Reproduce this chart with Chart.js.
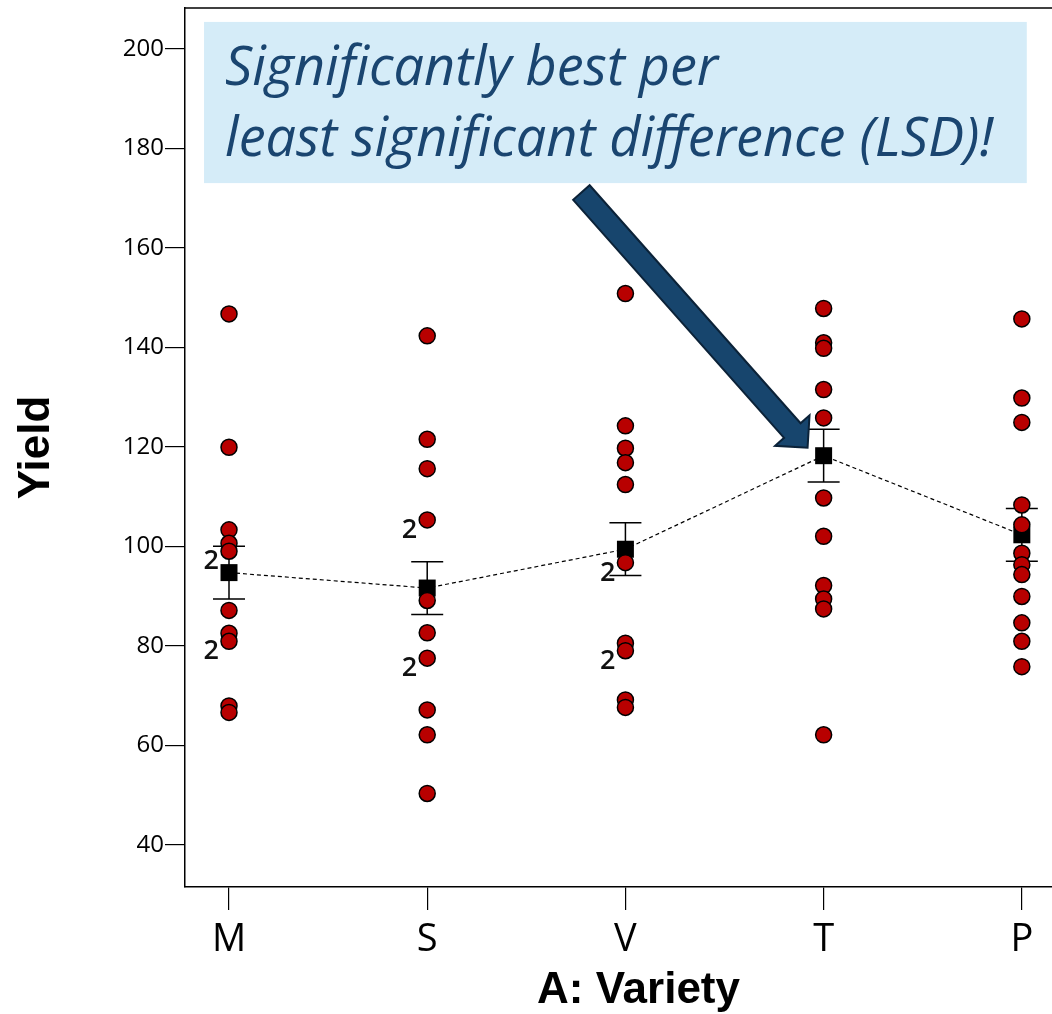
<!DOCTYPE html>
<html>
<head>
<meta charset="utf-8">
<script src="https://cdn.jsdelivr.net/npm/chart.js"></script>
<style>
  html, body { margin: 0; padding: 0; background: #fff; overflow: hidden; }
  #wrap { width: 1052px; height: 1014px; overflow: hidden; position: relative; }
  #wrap canvas { position: absolute; left: 0; top: 0; }
</style>
</head>
<body>
<div id="wrap"><canvas id="yieldChart" width="1092" height="1014"></canvas></div>
<script>
// varieties on the x axis
const varieties = ['M', 'S', 'V', 'T', 'P'];

// observed yields per variety (repeated values are drawn once and tagged with the count)
const yieldM = [146.7, 119.9, 103.3, 100.6, 99.0, 99.0, 87.1, 82.5, 80.9, 80.9, 67.9, 66.6];
const yieldS = [142.3, 121.5, 115.6, 105.3, 105.3, 89.1, 82.6, 77.5, 77.5, 67.1, 62.1, 50.3];
const yieldV = [150.8, 124.2, 119.7, 116.8, 112.4, 96.7, 96.7, 80.5, 79.0, 79.0, 69.1, 67.6];
const yieldT = [147.8, 140.9, 139.8, 131.5, 125.8, 109.7, 102.0, 92.1, 89.4, 87.4, 62.1];
const yieldP = [145.7, 129.8, 124.9, 108.3, 104.3, 98.6, 96.3, 94.3, 89.9, 84.6, 80.9, 75.8];

// predicted means and LSD half widths
const meanYield = [94.7, 91.6, 99.4, 118.2, 102.3];
const lsdHalf = [5.3, 5.3, 5.3, 5.3, 5.3];

const yTicks = [40, 60, 80, 100, 120, 140, 160, 180, 200];

const calloutLines = ['Significantly best per', 'least significant difference (LSD)!'];

// collapse repeats into one point with a count
const obsPoints = [];
[yieldM, yieldS, yieldV, yieldT, yieldP].forEach((vals, i) => {
  const counts = new Map();
  vals.forEach(v => counts.set(v, (counts.get(v) || 0) + 1));
  counts.forEach((n, v) => obsPoints.push({ x: i, y: v, n: n }));
});

const errorBars = {
  id: 'errorBars',
  beforeDatasetsDraw(chart) {
    const { ctx, scales: { x, y } } = chart;
    ctx.save();
    ctx.strokeStyle = '#000';
    ctx.lineWidth = 1.5;
    meanYield.forEach((m, i) => {
      const px = x.getPixelForValue(i);
      const top = y.getPixelForValue(m + lsdHalf[i]);
      const bot = y.getPixelForValue(m - lsdHalf[i]);
      ctx.beginPath();
      ctx.moveTo(px, top); ctx.lineTo(px, bot);
      ctx.moveTo(px - 16, top); ctx.lineTo(px + 16, top);
      ctx.moveTo(px - 16, bot); ctx.lineTo(px + 16, bot);
      ctx.stroke();
    });
    ctx.restore();
  }
};

const repeatTags = {
  id: 'repeatTags',
  afterDatasetsDraw(chart) {
    const { ctx } = chart;
    const meta = chart.getDatasetMeta(0);
    ctx.save();
    ctx.fillStyle = '#111';
    ctx.font = '600 27px "Open Sans", sans-serif';
    ctx.textAlign = 'right';
    ctx.textBaseline = 'alphabetic';
    meta.data.forEach((el, k) => {
      const p = obsPoints[k];
      if (p.n > 1) ctx.fillText(String(p.n), el.x - 10, el.y + 18);
    });
    ctx.restore();
  }
};

const callout = {
  id: 'callout',
  afterDraw(chart) {
    const { ctx, chartArea, scales: { x, y } } = chart;
    ctx.save();
    // top edge of the frame
    ctx.strokeStyle = '#000';
    ctx.lineWidth = 1.5;
    ctx.beginPath();
    ctx.moveTo(chartArea.left, chartArea.top);
    ctx.lineTo(chartArea.right, chartArea.top);
    ctx.stroke();

    // text box
    const bx0 = x.getPixelForValue(-0.126), bx1 = x.getPixelForValue(4.025);
    const by0 = y.getPixelForValue(205.4), by1 = y.getPixelForValue(173.0);
    ctx.fillStyle = '#D5ECF8';
    ctx.fillRect(bx0, by0, bx1 - bx0, by1 - by0);

    ctx.fillStyle = '#1A4570';
    ctx.textAlign = 'left';
    ctx.textBaseline = 'alphabetic';
    ctx.font = 'italic 100px "Open Sans", "Noto Sans", sans-serif';
    const w = ctx.measureText(calloutLines[1]).width;
    const size = Math.round(100 * 765 / w);
    ctx.font = 'italic ' + size + 'px "Open Sans", "Noto Sans", sans-serif';
    ctx.fillText(calloutLines[0], bx0 + 21, by0 + 63);
    ctx.fillText(calloutLines[1], bx0 + 21, by0 + 134);

    // arrow pointing at the best mean
    const tx = x.getPixelForValue(1.778), ty = y.getPixelForValue(171.1);
    const hx = x.getPixelForValue(2.919), hy = y.getPixelForValue(119.8);
    const len = Math.hypot(hx - tx, hy - ty);
    const dx = (hx - tx) / len, dy = (hy - ty) / len;
    const nx = -dy, ny = dx;
    const sw = 11, hw = 23, hl = 23;
    const bx = hx - dx * hl, byy = hy - dy * hl;
    ctx.beginPath();
    ctx.moveTo(tx + nx * sw, ty + ny * sw);
    ctx.lineTo(bx + nx * sw, byy + ny * sw);
    ctx.lineTo(bx + nx * hw, byy + ny * hw);
    ctx.lineTo(hx, hy);
    ctx.lineTo(bx - nx * hw, byy - ny * hw);
    ctx.lineTo(bx - nx * sw, byy - ny * sw);
    ctx.lineTo(tx - nx * sw, ty - ny * sw);
    ctx.closePath();
    ctx.fillStyle = '#17456D';
    ctx.fill();
    ctx.strokeStyle = '#0B2238';
    ctx.lineWidth = 2;
    ctx.lineJoin = 'miter';
    ctx.stroke();
    ctx.restore();
  }
};

new Chart(document.getElementById('yieldChart'), {
  type: 'scatter',
  data: {
    datasets: [
      {
        label: 'Yield',
        data: obsPoints,
        order: 0,
        pointRadius: 8,
        pointBackgroundColor: '#B80000',
        pointBorderColor: '#000',
        pointBorderWidth: 1.5
      },
      {
        type: 'line',
        label: 'Mean',
        data: meanYield.map((m, i) => ({ x: i, y: m })),
        order: 1,
        borderColor: '#000',
        borderWidth: 1.2,
        borderDash: [4, 3],
        pointStyle: 'rect',
        pointRadius: 12,
        pointBackgroundColor: '#000',
        pointBorderWidth: 0,
        fill: false
      }
    ]
  },
  options: {
    responsive: false,
    animation: false,
    layout: { autoPadding: false, padding: { top: 8, right: 0, left: 0, bottom: 0 } },
    plugins: { legend: { display: false }, tooltip: { enabled: false } },
    scales: {
      x: {
        type: 'linear',
        min: -0.222,
        max: 4.354,
        afterBuildTicks: s => { s.ticks = varieties.map((_, i) => ({ value: i })); },
        afterFit: s => { s.height = 127; s.paddingLeft = 0; s.paddingRight = 0; },
        border: { display: true, color: '#000', width: 1.5 },
        grid: { drawOnChartArea: false, drawTicks: true, tickLength: 23, color: '#000', lineWidth: 1.2 },
        ticks: {
          autoSkip: false,
          maxRotation: 0,
          padding: 7,
          color: '#000',
          font: { family: '"Open Sans", sans-serif', size: 38 },
          callback: v => varieties[v]
        },
        title: {
          display: true,
          text: 'A: Variety',
          color: '#000',
          padding: 0,
          font: { family: '"Liberation Sans", Arial, sans-serif', size: 44, weight: 'bold', lineHeight: 1.05 }
        }
      },
      y: {
        min: 31.5,
        max: 208.2,
        afterBuildTicks: s => { s.ticks = yTicks.map(v => ({ value: v })); },
        afterFit: s => { s.width = 185; s.paddingTop = 0; s.paddingBottom = 0; },
        border: { display: true, color: '#000', width: 1.5 },
        grid: { drawOnChartArea: false, drawTicks: true, tickLength: 20, color: '#000', lineWidth: 1.2 },
        ticks: {
          padding: 1,
          color: '#000',
          font: { family: '"Open Sans", sans-serif', size: 24 }
        },
        title: {
          display: true,
          text: 'Yield',
          color: '#000',
          padding: { top: 10, bottom: 0 },
          font: { family: '"Liberation Sans", Arial, sans-serif', size: 44, weight: 'bold' }
        }
      }
    }
  },
  plugins: [errorBars, repeatTags, callout]
});
</script>
</body>
</html>
